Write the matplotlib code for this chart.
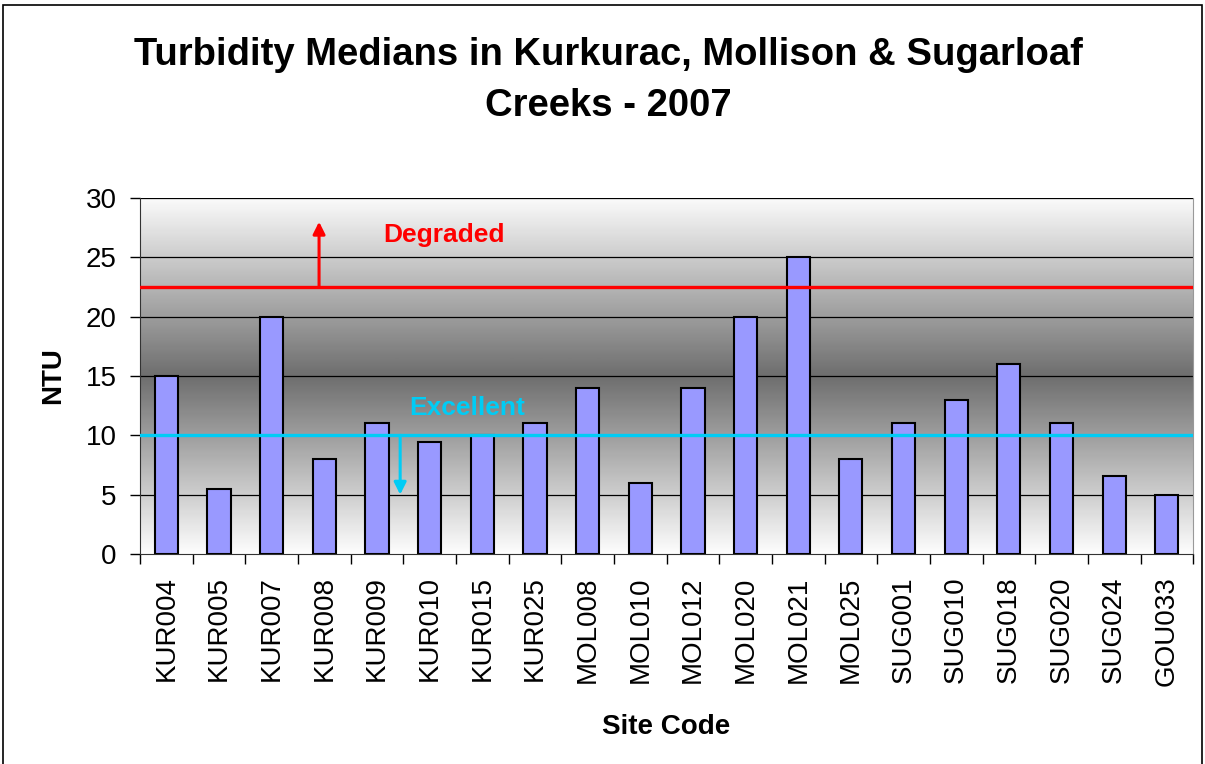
import numpy as np
import matplotlib.pyplot as plt
from matplotlib.colors import LinearSegmentedColormap
from matplotlib.patches import Rectangle

# Site codes and median turbidity (NTU)
sites = ['KUR004', 'KUR005', 'KUR007', 'KUR008', 'KUR009', 'KUR010', 'KUR015',
         'KUR025', 'MOL008', 'MOL010', 'MOL012', 'MOL020', 'MOL021', 'MOL025',
         'SUG001', 'SUG010', 'SUG018', 'SUG020', 'SUG024', 'GOU033']
medians = [15, 5.5, 20, 8, 11, 9.4, 10, 11, 14, 6, 14, 20, 25, 8,
           11, 13, 16, 11, 6.6, 5]

degraded_level = 22.5
excellent_level = 10

plt.rcParams['font.family'] = ['Liberation Sans', 'DejaVu Sans']

fig = plt.figure(figsize=(12.05, 7.64), dpi=100)
ax = fig.add_axes([0.1162, 0.2749, 0.8740, 0.4659])

n = len(sites)
x = np.arange(n)

# Grey gradient background: light at top and bottom, dark in the middle
grad_cmap = LinearSegmentedColormap.from_list('g', ['#fdfdfd', '#6e6e6e', '#fafafa'])
ys = np.linspace(0, 1, 300).reshape(-1, 1)
ax.imshow(ys, aspect='auto', cmap=grad_cmap, extent=[-0.5, n - 0.5, 30, 0],
          zorder=0, interpolation='bilinear')

ax.set_xlim(-0.5, n - 0.5)
ax.set_ylim(0, 30)

# grid lines
for v in range(5, 31, 5):
    ax.axhline(v, color='black', lw=0.9, zorder=1)

ax.bar(x, medians, width=0.44, color='#9999ff', edgecolor='black', lw=1.5, zorder=2)

# guideline levels
ax.axhline(degraded_level, color='#ff0000', lw=2.4, zorder=3)
ax.axhline(excellent_level, color='#00ccf5', lw=2.4, zorder=3)

ax.annotate('', xy=(2.9, 28.0), xytext=(2.9, degraded_level),
            arrowprops=dict(arrowstyle='-|>', color='#ff0000', lw=2.2,
                            mutation_scale=18, shrinkA=0, shrinkB=0), zorder=4)
ax.annotate('', xy=(4.44, 5.0), xytext=(4.44, excellent_level),
            arrowprops=dict(arrowstyle='-|>', color='#00ccf5', lw=2.2,
                            mutation_scale=18, shrinkA=0, shrinkB=0), zorder=4)

ax.text(5.27, 26.9, 'Degraded', color='#ff0000', fontsize=19, fontweight='bold',
        ha='center', va='center', zorder=5)
ax.text(5.71, 12.3, 'Excellent', color='#00ccf5', fontsize=19, fontweight='bold',
        ha='center', va='center', zorder=5)

# axes styling
ax.set_yticks(range(0, 31, 5))
ax.tick_params(axis='y', labelsize=20, length=7, width=1, direction='out', pad=10)
ax.set_xticks(x)
ax.set_xticklabels(sites, rotation=90, fontsize=20)
ax.tick_params(axis='x', which='major', length=0, pad=16)
ax.set_xticks(np.arange(-0.5, n, 1), minor=True)
ax.tick_params(axis='x', which='minor', length=7, width=1, direction='out')

ax.spines['left'].set_color('#333333')
ax.spines['bottom'].set_color('#333333')
ax.spines['top'].set_visible(False)
ax.spines['right'].set_color('#999999')

ax.set_ylabel('NTU', fontsize=20, fontweight='bold', labelpad=14)
ax.set_xlabel('Site Code', fontsize=20, fontweight='bold', labelpad=20)

fig.text(0.505, 0.895, 'Turbidity Medians in Kurkurac, Mollison & Sugarloaf\nCreeks - 2007',
         ha='center', va='center', fontsize=27.5, fontweight='bold', linespacing=1.55)

# outer chart border
fig.patches.append(Rectangle((0.0025, -0.01), 0.995, 1 - 5 / 764 + 0.01,
                             transform=fig.transFigure, fill=False,
                             edgecolor='black', lw=1.2))

fig.savefig('out.png', dpi=100)
